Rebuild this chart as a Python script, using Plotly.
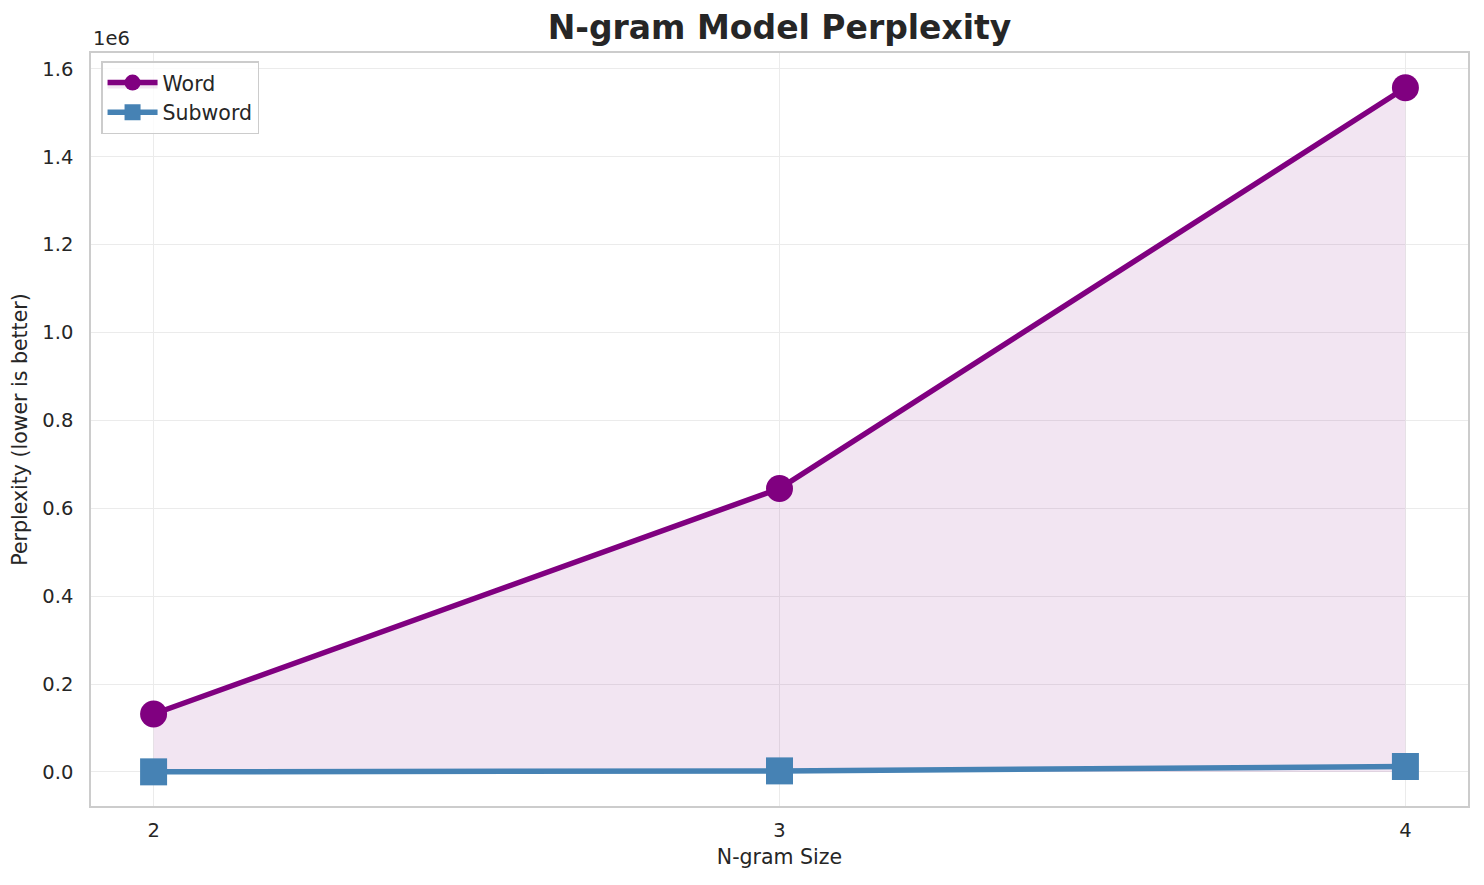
import plotly.graph_objects as go

ngram_sizes = [2, 3, 4]
word_perplexity = [132000, 645000, 1557000]
subword_perplexity = [300, 2500, 12500]
ytick_values = [0, 200000, 400000, 600000, 800000, 1000000, 1200000, 1400000, 1600000]
ytick_labels = ["0.0", "0.2", "0.4", "0.6", "0.8", "1.0", "1.2", "1.4", "1.6"]

fig = go.Figure()
fig.add_trace(go.Scatter(
    x=ngram_sizes, y=word_perplexity, mode="lines+markers", name="Word",
    line=dict(color="#800080", width=5.5),
    marker=dict(symbol="circle", size=27, color="#800080"),
    fill="tozeroy", fillcolor="rgba(128,0,128,0.1)",
))
fig.add_trace(go.Scatter(
    x=ngram_sizes, y=subword_perplexity, mode="lines+markers", name="Subword",
    line=dict(color="#4682b4", width=5.5),
    marker=dict(symbol="square", size=27, color="#4682b4"),
))

axis_common = dict(
    showline=True, linecolor="#cccccc", linewidth=1.5, mirror=True,
    showgrid=True, gridcolor="#ebebeb", gridwidth=1.2, zeroline=False,
    ticks="outside", tickcolor="rgba(0,0,0,0)", tickfont=dict(size=19.5, color="#262626"),
    automargin=False,
)

fig.update_layout(
    width=1476, height=877,
    paper_bgcolor="white", plot_bgcolor="white",
    font=dict(family="DejaVu Sans", color="#262626"),
    title=dict(text="<b>N-gram Model Perplexity</b>", x=(779.5 - 8) / 1476, xanchor="center",
               xref="container", y=1 - 19 / 877, yanchor="middle", font=dict(size=33, color="#262626")),
    margin=dict(l=83, r=16, t=45, b=79),
    xaxis=dict(range=[1.9, 4.1], tickvals=ngram_sizes, ticktext=[str(v) for v in ngram_sizes],
               ticklen=6,
               title=dict(text="N-gram Size", font=dict(size=20.5), standoff=8), **axis_common),
    yaxis=dict(range=[-77400, 1636000], tickvals=ytick_values, ticktext=ytick_labels,
               ticklen=12,
               title=dict(text="Perplexity (lower is better)", font=dict(size=20.5), standoff=9), **axis_common),
    legend=dict(x=0.0073, y=0.989, xanchor="left", yanchor="top",
                bgcolor="rgba(255,255,255,0.8)", bordercolor="#cccccc", borderwidth=1.5,
                font=dict(size=20.5, color="#262626"), itemwidth=50, tracegroupgap=0),
    showlegend=True,
)
fig.add_annotation(text="1e6", xref="paper", yref="paper", x=0, y=1.0, xanchor="left",
                   yanchor="bottom", showarrow=False, font=dict(size=19.5, color="#262626"), yshift=1)

fig.write_html("out.html")
